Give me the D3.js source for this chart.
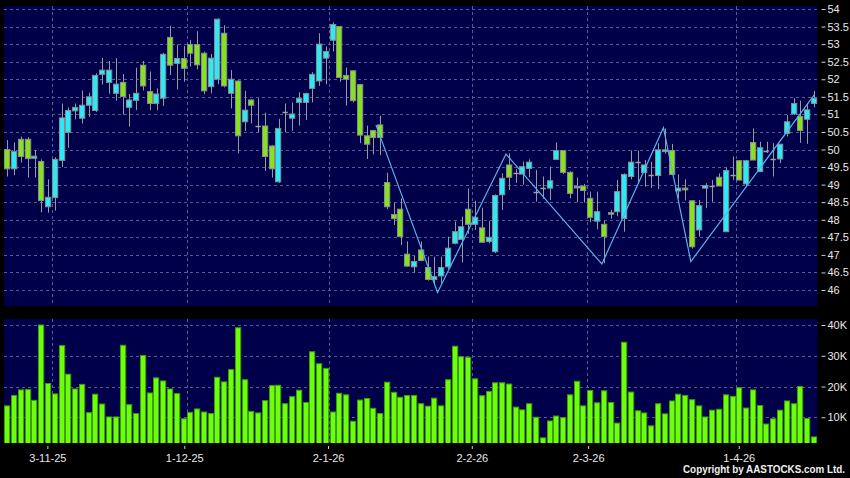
<!DOCTYPE html>
<html><head><meta charset="utf-8">
<script src="https://cdn.jsdelivr.net/npm/d3@7"></script>
<style>
html,body{margin:0;padding:0;background:#000;}
svg{display:block;}
text{font-family:"Liberation Sans", Arial, sans-serif;}
</style></head>
<body><svg id="c" width="850" height="478"></svg>
<script>
// ---------- DATA ----------
const opens = [
 50.00,49.45,50.29,50.29,49.75,49.66,48.37,48.63,49.69,50.49,
 51.10,50.89,51.26,51.11,52.14,51.91,51.60,51.91,51.20,51.40,
 52.40,51.65,51.31,51.46,53.19,52.45,52.59,52.99,52.99,52.74,
 51.79,52.00,53.31,51.60,51.95,50.79,51.41,50.67,50.67,50.10,
 49.08,51.06,50.89,51.34,51.34,51.74,51.95,52.60,53.11,53.50,
 52.11,52.24,51.85,50.39,50.54,50.70,49.06,48.15,48.30,47.02,
 46.66,47.14,46.64,46.30,46.40,46.66,47.33,47.44,48.30,47.87,
 47.77,47.38,47.09,48.71,49.56,49.32,49.30,49.46,48.80,48.90,
 48.90,49.72,49.97,49.35,48.92,48.96,48.61,47.96,47.87,48.18,
 48.23,48.04,49.23,49.63,49.34,49.26,49.26,49.94,49.97,48.82,
 48.90,48.54,47.71,48.90,48.96,49.21,47.66,49.28,49.68,49.02,
 50.20,49.37,49.97,49.73,49.73,50.46,51.01,50.94,50.86,51.31];
const highs = [
 50.27,50.20,50.37,50.35,49.99,49.72,49.15,49.78,51.31,51.20,
 51.31,51.68,51.62,52.17,52.61,52.52,52.60,52.15,51.58,52.33,
 52.52,52.22,51.74,52.75,53.52,52.99,52.95,53.12,53.37,52.79,
 52.72,53.73,53.54,52.26,51.97,51.67,51.43,51.46,51.05,50.12,
 50.87,51.31,51.34,51.63,51.62,52.20,53.31,52.93,53.62,53.52,
 52.33,52.26,51.87,50.68,50.56,50.96,49.34,48.49,48.61,47.38,
 46.97,47.38,46.95,46.95,46.95,47.52,47.95,48.09,48.89,48.54,
 48.34,47.97,48.72,49.32,49.89,49.44,49.66,49.72,49.42,49.23,
 49.51,50.20,49.98,49.38,49.20,49.02,48.80,48.80,47.97,48.28,
 49.13,49.32,49.97,49.97,49.70,49.65,50.18,50.60,50.16,49.29,
 49.15,48.56,48.56,49.04,49.13,49.32,49.49,49.80,49.70,49.70,
 50.60,50.22,50.22,50.18,50.16,50.98,51.46,51.39,51.31,51.67];
const lows = [
 49.23,49.27,49.63,49.20,49.20,48.21,48.20,48.26,49.50,50.05,
 50.86,50.74,50.93,51.07,51.85,51.59,51.39,50.99,50.65,51.12,
 51.68,51.12,51.12,51.24,52.12,51.71,51.93,52.36,52.28,51.58,
 51.60,51.86,51.77,51.17,49.89,50.53,50.74,50.48,49.39,49.20,
 49.05,50.49,50.53,50.68,50.84,51.34,51.81,51.86,52.79,51.93,
 51.25,51.34,50.18,49.73,49.86,49.84,48.30,47.85,47.28,46.66,
 46.49,46.82,46.27,46.14,46.19,46.60,47.30,46.78,47.60,47.71,
 47.34,47.33,47.05,48.28,48.85,49.05,49.00,49.21,48.52,48.60,
 48.56,49.70,49.30,48.61,48.50,48.49,47.93,47.73,46.76,48.03,
 48.10,47.66,49.15,49.05,48.94,48.90,48.87,49.88,49.27,48.61,
 48.55,47.18,47.52,48.33,48.51,48.96,47.66,49.13,49.13,48.95,
 49.70,49.37,49.90,49.23,49.61,50.37,50.98,50.19,50.16,51.20];
const closes = [
 49.45,49.94,49.80,49.74,49.81,48.55,48.64,49.72,50.90,51.11,
 51.20,51.26,51.50,52.11,52.26,52.26,51.86,51.51,51.41,51.60,
 51.81,51.31,51.58,52.71,52.40,52.59,52.31,52.74,52.41,51.67,
 52.60,53.71,51.81,52.00,50.39,51.12,51.26,50.67,49.80,49.45,
 50.60,51.06,51.01,51.46,51.59,52.14,53.00,52.79,53.56,52.05,
 52.00,51.39,50.41,50.15,50.34,50.34,48.37,48.03,47.52,46.68,
 46.81,46.84,46.30,46.38,46.64,47.19,47.66,47.80,47.87,48.07,
 47.36,47.50,48.69,49.18,49.21,49.32,49.51,49.64,48.80,48.90,
 49.11,49.97,49.35,48.75,48.95,48.83,48.07,48.23,47.52,48.20,
 48.80,49.29,49.64,49.63,49.56,49.26,49.99,49.99,49.29,48.90,
 48.85,47.23,48.40,48.97,48.96,48.96,49.40,49.28,49.13,49.68,
 49.70,50.05,49.97,49.73,50.15,50.79,51.31,50.54,51.13,51.46];
// volume in thousands of shares
const volumesK = [
 13.7,17.1,18.9,19.0,15.5,40.0,21.0,17.6,33.3,24.0,
 19.2,20.7,11.5,17.5,14.3,10.1,10.1,33.4,14.1,11.2,
 30.1,17.9,22.8,21.8,19.2,17.7,9.5,11.6,12.7,11.7,
 11.2,23.0,21.5,25.5,39.1,22.2,11.9,11.4,15.4,20.3,
 20.4,14.4,16.7,18.8,14.8,31.3,27.4,25.9,11.7,17.8,
 17.3,8.7,15.6,16.1,12.9,11.2,21.4,18.1,16.5,17.1,
 17.1,14.4,13.6,16.2,13.7,22.2,33.1,29.7,29.5,22.5,
 17.0,18.4,21.2,21.2,20.8,13.3,12.4,14.4,10.0,3.3,
 8.8,10.4,9.9,17.3,21.7,13.7,18.7,14.7,18.6,14.8,
 8.1,34.4,18.2,12.1,11.4,7.2,14.4,11.1,15.3,17.5,
 17.1,15.7,13.7,10.1,12.3,12.6,17.3,16.8,19.6,13.0,
 18.9,13.8,7.8,9.5,12.3,15.3,14.4,20.0,9.6,3.6];
// first trading bar of each month and its label
const monthStartIdx = [7, 27, 48, 69, 86, 108];
const monthLabels = ["3-11-25","1-12-25","2-1-26","2-2-26","2-3-26","1-4-26"];
// zigzag turning points (bar index, price)
const zigIdx = [55, 64, 74, 88, 97, 101, 119];
const zigVal = [50.70, 45.93, 49.87, 46.74, 50.62, 46.81, 51.55];
const priceTicks = d3.range(46, 54.001, 0.5);
const volTicksK = [10, 20, 30, 40];

// ---------- CHART ----------
const svg = d3.select("#c");
const N = closes.length;
const P = {l:4, r:817.5, t:6, b:306};
const V = {t:319, b:443};
const BG = "#00004a", GRID = "#5a5a92", TXT = "#e8e8e8";

svg.append("rect").attr("width",850).attr("height",478).attr("fill","#000");
svg.append("rect").attr("x",P.l).attr("y",P.t).attr("width",P.r-P.l).attr("height",P.b-P.t).attr("fill",BG);
svg.append("rect").attr("x",P.l).attr("y",V.t).attr("width",P.r-P.l).attr("height",V.b-V.t).attr("fill",BG);

const defs = svg.append("defs");
defs.append("clipPath").attr("id","cm").append("rect").attr("x",P.l).attr("y",P.t).attr("width",P.r-P.l).attr("height",P.b-P.t);
defs.append("clipPath").attr("id","cv").append("rect").attr("x",P.l).attr("y",V.t).attr("width",P.r-P.l).attr("height",V.b-V.t);

const x = d3.scaleBand().domain(d3.range(N)).range([P.l, P.r]).paddingInner(0.08).paddingOuter(0.05);
const cx = i => x(i) + x.bandwidth()/2;
const xl = d3.scaleLinear().domain([0, N-1]).range([cx(0) - 8, cx(N-1)]);
const yP = d3.scaleLinear().domain([46, 54]).range([290, 9]);
const yV = d3.scaleLinear().domain([0, 40]).range([448, 325]);
const gx = i => Math.round(x(i) - x.step()*x.paddingInner()/2) + 0.5;

// grids
const gm = svg.append("g").attr("stroke",GRID).attr("stroke-dasharray","3,3").attr("stroke-width",1);
priceTicks.forEach(p => {
  const y = Math.round(yP(p)) + 0.5;
  gm.append("line").attr("x1",P.l).attr("x2",P.r).attr("y1",y).attr("y2",y);
});
volTicksK.forEach(v => {
  const y = Math.round(yV(v)) + 0.5;
  gm.append("line").attr("x1",P.l).attr("x2",P.r).attr("y1",y).attr("y2",y);
});
monthStartIdx.forEach(i => {
  gm.append("line").attr("x1",gx(i)).attr("x2",gx(i)).attr("y1",P.t).attr("y2",P.b);
  gm.append("line").attr("x1",gx(i)).attr("x2",gx(i)).attr("y1",V.t).attr("y2",V.b);
});

// candles
const idx = d3.range(N);
const cm = svg.append("g").attr("clip-path","url(#cm)");
cm.append("g").selectAll("line").data(idx).join("line")
  .attr("x1", i => Math.round(cx(i)) + 0.5).attr("x2", i => Math.round(cx(i)) + 0.5)
  .attr("y1", i => yP(highs[i])).attr("y2", i => yP(lows[i]))
  .attr("stroke","#9a9a9a").attr("stroke-width",1);
const bw = x.bandwidth() - 1;
cm.append("g").selectAll("rect").data(idx.filter(i => opens[i] !== closes[i])).join("rect")
  .attr("x", i => Math.round(x(i)) + 0.5).attr("width", bw)
  .attr("y", i => yP(Math.max(opens[i], closes[i])))
  .attr("height", i => Math.max(1.5, Math.abs(yP(opens[i]) - yP(closes[i]))))
  .attr("fill", i => closes[i] > opens[i] ? "#2ce9f7" : "#84e21e")
  .attr("stroke","#8c8c8c").attr("stroke-width",1);
cm.append("g").selectAll("line").data(idx.filter(i => opens[i] === closes[i])).join("line")
  .attr("x1", i => Math.round(x(i)) + 0.5).attr("x2", i => Math.round(x(i)) + 0.5 + bw)
  .attr("y1", i => Math.round(yP(closes[i])) + 0.5).attr("y2", i => Math.round(yP(closes[i])) + 0.5)
  .attr("stroke","#a0a0a0").attr("stroke-width",1.5);

// zigzag
const zz = zigIdx.map((d,k) => ({i:d, v:zigVal[k]}));
cm.append("path").datum(zz)
  .attr("d", d3.line().x(d => xl(d.i)).y(d => yP(d.v)))
  .attr("fill","none").attr("stroke","#55b4ea").attr("stroke-width",1.2);

// volume bars
svg.append("g").attr("clip-path","url(#cv)").selectAll("rect").data(idx).join("rect")
  .attr("x", i => Math.round(x(i)) + 0.5).attr("width", bw)
  .attr("y", i => yV(volumesK[i])).attr("height", i => V.b + 2 - yV(volumesK[i]))
  .attr("fill","#6cff0a").attr("stroke","#3f9a12").attr("stroke-width",1);

// axes
function styleAxis(g){
  g.select(".domain").remove();
  g.selectAll(".tick line").attr("stroke","#cfcfcf");
  g.selectAll("text").attr("fill",TXT).style("font-size","11px");
}
svg.append("g").attr("transform",`translate(${P.r+4},0)`)
  .call(d3.axisRight(yP).tickValues(priceTicks).tickSize(4).tickPadding(2).tickFormat(d3.format("~g")))
  .call(styleAxis);
svg.append("g").attr("transform",`translate(${P.r+4},0)`)
  .call(d3.axisRight(yV).tickValues(volTicksK).tickSize(4).tickPadding(2).tickFormat(d => d + "K"))
  .call(styleAxis);
svg.append("g").attr("transform",`translate(0,${V.b+3})`)
  .call(d3.axisBottom(xl).tickValues(monthStartIdx).tickSize(3).tickPadding(5).tickFormat((d,k) => monthLabels[k]))
  .call(styleAxis);

svg.append("text").attr("x",845).attr("y",472.5).attr("text-anchor","end")
  .attr("fill","#f0f0f0").style("font-size","10px").style("font-weight","bold")
  .attr("textLength",162).attr("lengthAdjust","spacingAndGlyphs")
  .text("Copyright by AASTOCKS.com Ltd.");
</script>
</body></html>
